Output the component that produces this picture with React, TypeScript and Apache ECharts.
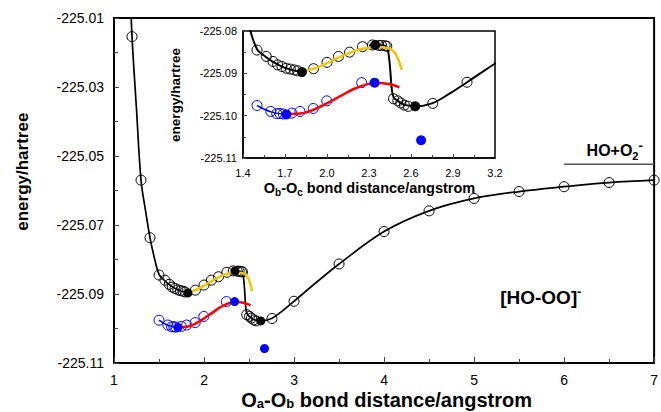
import React, { useEffect, useRef } from 'react';
import * as echarts from 'echarts';

const FONT = '"Liberation Sans", Arial, Helvetica, sans-serif';

// open black circles (computed points)
const blackOpen: number[][] = [
  [1.2, -225.0154], [1.3, -225.057], [1.4, -225.0737], [1.5, -225.0845], [1.566, -225.086],
  [1.614, -225.0872], [1.647, -225.088], [1.678, -225.0884], [1.709, -225.0888], [1.738, -225.089],
  [1.766, -225.0892], [1.79, -225.0894], [1.904, -225.0889], [2.0, -225.0874], [2.082, -225.086],
  [2.161, -225.085], [2.254, -225.0837], [2.325, -225.0833], [2.37, -225.0834], [2.39, -225.0834],
  [2.415, -225.0835], [2.427, -225.0836], [2.475, -225.096], [2.506, -225.0965], [2.527, -225.097],
  [2.553, -225.0975], [2.58, -225.0978], [2.755, -225.0971], [3.0, -225.0921], [3.5, -225.0813],
  [4.0, -225.0719], [4.5, -225.0659], [5.0, -225.0623], [5.5, -225.0603], [6.0, -225.0589],
  [6.5, -225.0577], [7.0, -225.057],
];
// filled black points
const blackFilled: number[][] = [[1.821, -225.0897], [2.344, -225.0833], [2.63, -225.0978]];
// open blue circles
const blueOpen: number[][] = [
  [1.5, -225.0976], [1.598, -225.099], [1.641, -225.0995], [1.664, -225.0995], [1.688, -225.0996],
  [1.748, -225.0994], [1.807, -225.099], [1.902, -225.0983], [1.998, -225.0965], [2.248, -225.0922],
];
// filled blue points
const blueFilled: number[][] = [[1.71, -225.0997], [2.34, -225.0922], [2.672, -225.1058]];

// fitted curves
const blackCurveA: number[][] = [
  [1.185, -225.004], [1.2, -225.0154], [1.25, -225.0365], [1.3, -225.057], [1.35, -225.0658],
  [1.4, -225.0737], [1.45, -225.0797], [1.5, -225.0843], [1.55, -225.0858], [1.6, -225.087],
  [1.7, -225.0887], [1.821, -225.0897],
];
const blackCurveB: number[][] = [
  [2.3, -225.0834], [2.345, -225.0833], [2.4, -225.0834], [2.425, -225.0837], [2.437, -225.0848],
  [2.45, -225.0885], [2.462, -225.0935], [2.475, -225.0956], [2.5, -225.0964], [2.55, -225.0974],
  [2.63, -225.0978], [2.75, -225.0971], [2.875, -225.0948], [3.0, -225.0921], [3.25, -225.0866],
  [3.5, -225.0813], [4.0, -225.0719], [4.5, -225.0659], [5.0, -225.0623], [5.5, -225.0603],
  [6.0, -225.0589], [6.5, -225.0577], [7.0, -225.057],
];
const yellowCurve: number[][] = [
  [1.821, -225.0895], [1.904, -225.0889], [2.0, -225.0876], [2.094, -225.0861], [2.19, -225.0848],
  [2.284, -225.084], [2.38, -225.0838], [2.45, -225.0842], [2.486, -225.0852], [2.51, -225.0868],
  [2.534, -225.0892],
];
const redCurve: number[][] = [
  [1.709, -225.0996], [1.809, -225.0995], [1.904, -225.0986], [1.999, -225.0971], [2.094, -225.0954],
  [2.19, -225.0937], [2.284, -225.0926], [2.356, -225.0923], [2.45, -225.0926], [2.517, -225.0933],
];
const blueCurve: number[][] = [[1.5, -225.0976], [1.6, -225.0991], [1.71, -225.0997]];

// dissociation limit HO + O2-
const limitLine: number[][] = [[6.0, -225.0524], [7.0, -225.0524]];

// annotation anchors (data coords, left / middle of text)
const hoooAnchor = [5.29, -225.0909];
const hoO2Anchor = [6.25, -225.0484];

// axes
const mainX = { min: 1, max: 7, interval: 1 };
const mainY = { min: -225.11, max: -225.01, interval: 0.02 };
const insetX = { min: 1.4, max: 3.2, interval: 0.3 };
const insetY = { min: -225.11, max: -225.08, interval: 0.01 };

function lineS(data: number[][], color: string, width: number, idx: number, z: number) {
  return {
    type: 'line', data, xAxisIndex: idx, yAxisIndex: idx, smooth: 0.35, symbol: 'none',
    showSymbol: false, lineStyle: { color, width }, clip: true, z, silent: true,
  };
}
function dotS(data: number[][], color: string, filled: boolean, size: number, idx: number, z: number) {
  return {
    type: 'scatter', data, xAxisIndex: idx, yAxisIndex: idx, symbol: 'circle', symbolSize: size,
    itemStyle: filled
      ? { color, borderColor: color, borderWidth: 0, opacity: 1 }
      : { color: 'rgba(0,0,0,0)', borderColor: color, borderWidth: 1, opacity: 1 },
    z, silent: true, clip: true,
  };
}

function axisCommon(fontSize: number, margin: number, digits: number, tickLen: number, minorLen: number, lw: number) {
  return {
    axisLine: { show: true, onZero: false, lineStyle: { color: '#000', width: lw } },
    axisTick: { show: true, inside: true, length: tickLen, lineStyle: { color: '#444', width: 1 } },
    minorTick: { show: true, splitNumber: 2, length: minorLen, lineStyle: { color: '#444', width: 1 } },
    splitLine: { show: false },
    minorSplitLine: { show: false },
    axisLabel: {
      fontSize, color: '#000', fontFamily: FONT, margin, showMinLabel: true, showMaxLabel: true,
      formatter: (v: number) => v.toFixed(digits),
    },
  };
}

export default function App() {
  const ref = useRef<HTMLDivElement>(null);
  useEffect(() => {
    if (!ref.current) return;
    const chart = echarts.init(ref.current, undefined, { renderer: 'svg' });
    const series: any[] = [];
    [0, 1].forEach((i) => {
      const lw = i === 0 ? 1.7 : 2;
      series.push(lineS(blackCurveA, '#000', lw, i, 2));
      series.push(lineS(blackCurveB, '#000', lw, i, 2));
      series.push(dotS(blackOpen, '#000', false, 10, i, 3));
      series.push(lineS(blueCurve, '#0000ff', 1.5, i, 3));
      series.push(dotS(blueOpen, '#0000ff', false, 10, i, 3));
      series.push(lineS(yellowCurve, '#f2c500', 2.5, i, 4));
      series.push(lineS(redCurve, '#ff0000', 2.5, i, 4));
      series.push(dotS(blackFilled, '#000', true, i === 0 ? 9 : 10, i, 5));
      series.push(dotS(blueFilled, '#0000ff', true, i === 0 ? 9 : 10, i, 5));
    });
    series.push({
      type: 'line', data: limitLine, xAxisIndex: 0, yAxisIndex: 0, symbol: 'none',
      lineStyle: { color: '#555', width: 1.5 }, z: 2, silent: true,
    });

    chart.setOption({
      animation: false,
      backgroundColor: '#fff',
      textStyle: { fontFamily: FONT },
      grid: [
        { left: 114, top: 18, width: 544, height: 345, show: true, borderColor: '#000', borderWidth: 2, backgroundColor: 'transparent' },
        { left: 243, top: 31, width: 252, height: 127, show: true, borderColor: '#000', borderWidth: 1.5, backgroundColor: 'transparent' },
      ],
      xAxis: [
        { type: 'value', gridIndex: 0, ...mainX, ...axisCommon(14, 10, 0, 6, 4, 2) },
        { type: 'value', gridIndex: 1, ...insetX, ...axisCommon(11, 9, 1, 4, 3, 1.5) },
      ],
      yAxis: [
        { type: 'value', gridIndex: 0, ...mainY, ...axisCommon(14, 10, 2, 5, 4, 2) },
        { type: 'value', gridIndex: 1, ...insetY, ...axisCommon(11, 6, 2, 4, 3, 1.5) },
      ],
      series,
    });

    const p1 = chart.convertToPixel({ xAxisIndex: 0, yAxisIndex: 0 }, hoooAnchor) as number[];
    const p2 = chart.convertToPixel({ xAxisIndex: 0, yAxisIndex: 0 }, hoO2Anchor) as number[];

    const txt = (x: number, y: number, style: any, rotation = 0) => ({
      type: 'text', x, y, rotation, silent: true, z: 100,
      style: { fill: '#000', fontFamily: FONT, ...style },
    });

    chart.setOption({
      graphic: [
        txt(22.5, 171.7, { text: 'energy/hartree', fontSize: 17, fontWeight: 'bold', align: 'center', verticalAlign: 'middle', textAlign: 'center', textVerticalAlign: 'middle' }, Math.PI / 2),
        txt(386.6, 400, {
          text: '{n|O}{s|a}{n|-O}{s|b}{n| bond distance/angstrom}', align: 'center', verticalAlign: 'middle',
          textAlign: 'center', textVerticalAlign: 'middle',
          rich: {
            n: { fontSize: 20, fontWeight: 'bold', fontFamily: FONT, lineHeight: 20, fill: '#000', color: '#000' },
            s: { fontSize: 13, fontWeight: 'bold', fontFamily: FONT, lineHeight: 7, verticalAlign: 'bottom', fill: '#000', color: '#000' },
          },
        }),
        txt(175, 95, { text: 'energy/hartree', fontSize: 13.5, fontWeight: 'bold', align: 'center', verticalAlign: 'middle', textAlign: 'center', textVerticalAlign: 'middle' }, Math.PI / 2),
        txt(369.5, 188, {
          text: '{n|O}{s|b}{n|-O}{s|c}{n| bond distance/angstrom}', align: 'center', verticalAlign: 'middle',
          textAlign: 'center', textVerticalAlign: 'middle',
          rich: {
            n: { fontSize: 14.5, fontWeight: 'bold', fontFamily: FONT, lineHeight: 18, fill: '#000', color: '#000' },
            s: { fontSize: 10, fontWeight: 'bold', fontFamily: FONT, lineHeight: 7, verticalAlign: 'bottom', fill: '#000', color: '#000' },
          },
        }),
        txt(p1[0], p1[1], {
          text: '{n|[HO-OO]}{p|-}', align: 'left', verticalAlign: 'middle', textAlign: 'left', textVerticalAlign: 'middle',
          rich: {
            n: { fontSize: 19, fontWeight: 'bold', fontFamily: FONT, lineHeight: 22, fill: '#000', color: '#000' },
            p: { fontSize: 12, fontWeight: 'bold', fontFamily: FONT, lineHeight: 10, verticalAlign: 'top', fill: '#000', color: '#000' },
          },
        }),
        txt(p2[0], p2[1], {
          text: '{n|HO+O}{s|2}{p|-}', align: 'left', verticalAlign: 'middle', textAlign: 'left', textVerticalAlign: 'middle',
          rich: {
            n: { fontSize: 16, fontWeight: 'bold', fontFamily: FONT, lineHeight: 22, fill: '#000', color: '#000' },
            s: { fontSize: 11, fontWeight: 'bold', fontFamily: FONT, lineHeight: 10, verticalAlign: 'bottom', fill: '#000', color: '#000' },
            p: { fontSize: 13, fontWeight: 'bold', fontFamily: FONT, lineHeight: 2, verticalAlign: 'top', fill: '#000', color: '#000' },
          },
        }),
      ],
    });

    return () => chart.dispose();
  }, []);
  return (
    <div
      ref={ref}
      style={{ position: 'fixed', left: 0, top: 0, width: 661, height: 412, background: '#fff' }}
    />
  );
}
